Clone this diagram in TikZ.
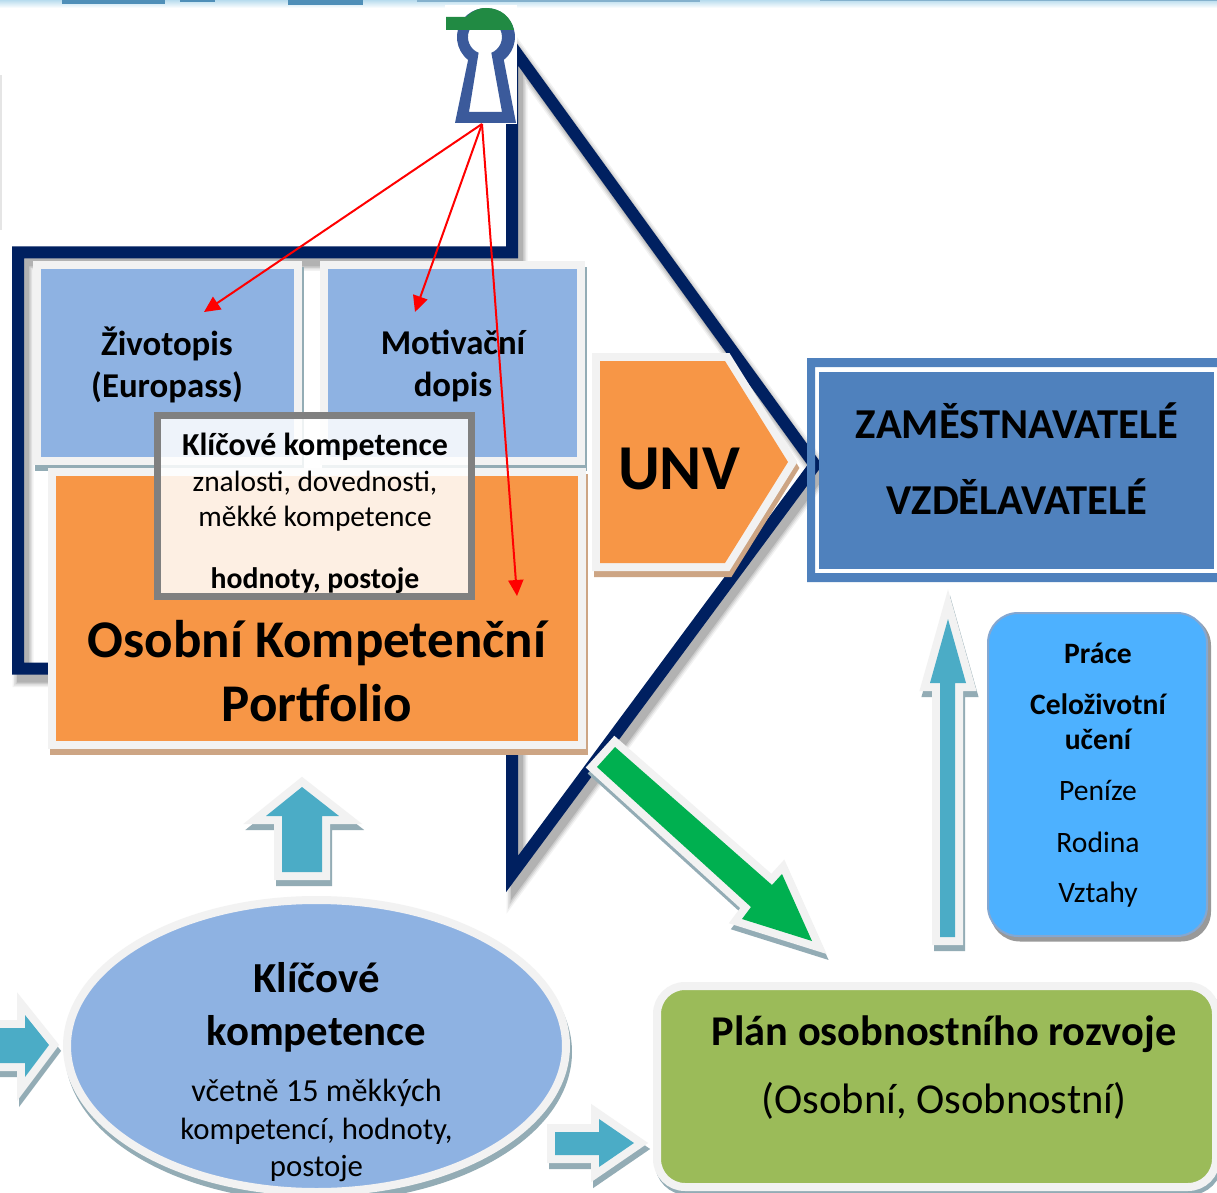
\documentclass[tikz,border=0pt]{standalone}
\usepackage{fontspec}
\setmainfont{Carlito}
\usetikzlibrary{shadows,arrows.meta,shapes.geometric}
\definecolor{navy}{HTML}{002060}
\definecolor{rim}{HTML}{F2F2F2}
\definecolor{shteal}{HTML}{93ACB5}
\definecolor{shtan}{HTML}{CDA584}
\definecolor{panelblue}{HTML}{8EB2E2}
\definecolor{panelorange}{HTML}{F79646}
\definecolor{arrowteal}{HTML}{4BACC6}
\definecolor{emp}{HTML}{4F81BD}
\definecolor{lifeblue}{HTML}{4DB1FF}
\definecolor{plangreen}{HTML}{9BBB59}
\definecolor{keyblue}{HTML}{3B5A9B}
\definecolor{capgreen}{HTML}{218A43}
\definecolor{arrowgreen}{HTML}{00B050}
\definecolor{bandlight}{HTML}{B8DCEE}
\definecolor{banddark}{HTML}{4F8FB8}
\tikzset{
  x=0.5pt,y=-0.5pt,
  rimshape/.style={draw=rim,line width=8pt,miter limit=12,line join=miter},
  shshape/.style={draw=#1,fill=#1,line width=8pt,miter limit=12},
  panel/.style={rectangle,draw=rim,fill=#1,line width=4pt,inner sep=0pt,outer sep=0pt,align=center},
  tealshadow/.style={copy shadow={draw=shteal,fill=shteal,shadow xshift=1pt,shadow yshift=-3pt}},
  tanshadow/.style={copy shadow={draw=shtan,fill=shtan,shadow xshift=1pt,shadow yshift=-3pt}},
  redarrow/.style={draw=red,line width=1pt,-{Triangle[length=8pt,width=7.5pt]}},
  label/.style={inner sep=0pt,outer sep=0pt,align=center,text=black},
}
% fancy arrow/pentagon: shadow, rim, fill
\newcommand{\rimmed}[3]{%
  \path[shshape=#1,shift={(2,6)}] #3;
  \path[rimshape,fill=rim] #3;
  \path[fill=#2] #3;
}
\begin{document}
\begin{tikzpicture}
\useasboundingbox (0,0) rectangle (1217,1193);
\fill[white] (0,0) rectangle (1217,1193);
% top band
\fill[top color=bandlight,bottom color=white] (0,0) rectangle (1217,8);
\fill[banddark] (62,0) rectangle (165,4);
\fill[banddark] (180,0) rectangle (215,2);
\fill[banddark] (288,0) rectangle (363,5);
\fill[banddark!70!white] (417,0) rectangle (700,2);
\fill[banddark!70!white] (820,0) rectangle (1217,1.5);
\fill[gray!20] (0,75) rectangle (1.5,230);
% frame shadow
\foreach \w/\o in {10.5pt/.05,9pt/.07,7.5pt/.09,6pt/.12}{
  \draw[black,opacity=\o,line width=\w,miter limit=12,shift={(5,8)}]
    (512,47) -- (815,465) -- (512,874) -- (512,668.5) -- (18,668.5) -- (18,252.5) -- (512,252.5) -- cycle;
}
% frame
\draw[navy,line width=6pt,miter limit=12]
  (512,47) -- (815,465) -- (512,874) -- (512,668.5) -- (18,668.5) -- (18,252.5) -- (512,252.5) -- cycle;
% keyhole picture
\fill[white] (445,5) rectangle (517,124);
\path[fill=keyblue,even odd rule]
  (455,123) -- (468.1,59.9) arc[start angle=128,end angle=412,radius=29] -- (516,123) -- cycle
  (469,112) -- (478.6,52.8) arc[start angle=112,end angle=428,radius=17] -- (502,112) -- cycle;
\path[fill=capgreen] (446,17) -- (466,17) .. controls (472,11) and (478,8) .. (486,8)
   .. controls (501,8) and (511,17) .. (514,30) -- (446,30) -- cycle;
\coordinate (keybase) at (482,124);
% employers box
\path[fill=emp,even odd rule] (807,358) rectangle (1225,582) (815,367) rectangle (1225,573);
\node[rectangle,fill=emp,inner sep=0pt,minimum width=197.5pt,minimum height=98.5pt] (emp) at (1016.5,470.5) {};
\node[label,font=\bfseries\fontsize{21.3}{26}\selectfont] (emptop) at (1017,421) {ZAMĚSTNAVATELÉ};
\node[label,font=\bfseries\fontsize{21.3}{26}\selectfont] (empbot) at (1017,497) {VZDĚLAVATELÉ};
% CV and letter
\node[panel=panelblue,tealshadow,minimum width=130.25pt,minimum height=98pt] (cv) at (167.25,363) {};
\node[panel=panelblue,tealshadow,minimum width=128.5pt,minimum height=98pt] (letter) at (452.75,363) {};
\node[label,font=\bfseries\fontsize{17.4}{21}\selectfont] (cvtext) at (167,364.5) {Životopis\\(Europass)};
\node[label,font=\bfseries\fontsize{17.4}{21}\selectfont] (lettertext) at (453,366.5) {Motivační\\dopis};
% portfolio
\node[panel=panelorange,tanshadow,minimum width=264.75pt,minimum height=136.5pt] (portfolio) at (316.75,608.5) {};
\node[label,font=\bfseries\fontsize{26.5}{32}\selectfont] (portfoliotext) at (317,671.5) {Osobní Kompetenční\\Portfolio};
% key competences box
\node[rectangle,draw=gray,fill=white,fill opacity=.85,line width=3.5pt,inner sep=0pt,minimum width=157pt,minimum height=90.5pt] (kk) at (314.5,506) {};
\node[label,font=\bfseries\fontsize{16}{18}\selectfont] (kk1) at (315,447) {Klíčové kompetence};
\node[label,font=\fontsize{14.7}{17.5}\selectfont] (kk2) at (315,501) {znalosti, dovednosti,\\měkké kompetence};
\node[label,font=\bfseries\fontsize{14.85}{18}\selectfont] (kk3) at (315,581) {hodnoty, postoje};
% UNV
\rimmed{shtan}{panelorange}{(600,361) -- (725,361) -- (788,462) -- (725,563) -- (600,563) -- cycle}
\node[label,font=\bfseries\fontsize{32}{38}\selectfont] (unv) at (679,469) {UNV};
% green arrow
\rimmed{shteal}{arrowgreen}{(615,747) -- (597,767) -- (751,907) -- (742,919) -- (812,941) -- (782,874) -- (772,885) -- cycle}
% ellipse
\node[ellipse,draw=rim,fill=panelblue,line width=4pt,inner sep=0pt,tealshadow,minimum width=249.5pt,minimum height=146pt] (oval) at (316.5,1046) {};
\node[label,font=\bfseries\fontsize{21.4}{26.5}\selectfont] (ovaltitle) at (316.5,1007) {Klíčové\\kompetence};
\node[label,font=\fontsize{16.1}{19}\selectfont] (oval1) at (316.5,1093) {včetně 15 měkkých};
\node[label,font=\fontsize{15.4}{18.5}\selectfont] (oval2) at (316.5,1150) {kompetencí, hodnoty,\\postoje};
% arrows teal
\rimmed{shteal}{arrowteal}{(-10,1028) -- (25,1028) -- (25,1015) -- (49,1045) -- (25,1077) -- (25,1063) -- (-10,1063) -- cycle}
\rimmed{shteal}{arrowteal}{(282,872) -- (282,816) -- (266,816) -- (302,787) -- (339,816) -- (322,816) -- (322,872) -- cycle}
\rimmed{shteal}{arrowteal}{(555,1132) -- (599,1132) -- (599,1119) -- (634,1143) -- (599,1167) -- (599,1155) -- (555,1155) -- cycle}
\rimmed{shteal}{arrowteal}{(940,937) -- (940,683) -- (930,683) -- (948,619) -- (966,683) -- (955,683) -- (955,937) -- cycle}
% life box
\node[rectangle,rounded corners=15pt,draw=none,fill=gray,fill opacity=.8,minimum width=110.5pt,minimum height=163pt,inner sep=0pt] (lifeshadow) at (1100.5,778.5) {};
\node[rectangle,rounded corners=15pt,draw=emp!70!white,fill=lifeblue,line width=1pt,minimum width=109.5pt,minimum height=161.5pt,inner sep=0pt] (life) at (1097.5,774.5) {};
\node[label,font=\bfseries\fontsize{14.8}{17}\selectfont] (l1) at (1098,653) {Práce};
\node[label,font=\bfseries\fontsize{14.8}{17.5}\selectfont] (l2) at (1098,721.5) {Celoživotní\\učení};
\node[label,font=\fontsize{14.8}{17}\selectfont] (l3) at (1098,790) {Peníze};
\node[label,font=\fontsize{14.8}{17}\selectfont] (l4) at (1098,842) {Rodina};
\node[label,font=\fontsize{14.8}{17}\selectfont] (l5) at (1098,895) {Vztahy};
% plan box
\node[rectangle,rounded corners=14pt,draw=rim,fill=plangreen,line width=4pt,inner sep=0pt,minimum width=279.5pt,minimum height=100.5pt,
  copy shadow={draw=shteal,fill=shteal,shadow xshift=1pt,shadow yshift=-2pt}] (plan) at (936.5,1086.5) {};
\node[label,font=\bfseries\fontsize{21.2}{26}\selectfont] (plan1) at (944,1034) {Plán osobnostního rozvoje};
\node[label,font=\fontsize{21.3}{26}\selectfont] (plan2) at (944,1101) {(Osobní, Osobnostní)};
% red connectors
\coordinate (cvtarget) at (204,312);
\coordinate (lettertarget) at (415,312);
\coordinate (porttarget) at (517,596);
\draw[redarrow] (keybase) -- (cvtarget);
\draw[redarrow] (keybase) -- (lettertarget);
\draw[redarrow] (keybase) -- (porttarget);
\end{tikzpicture}
\end{document}
